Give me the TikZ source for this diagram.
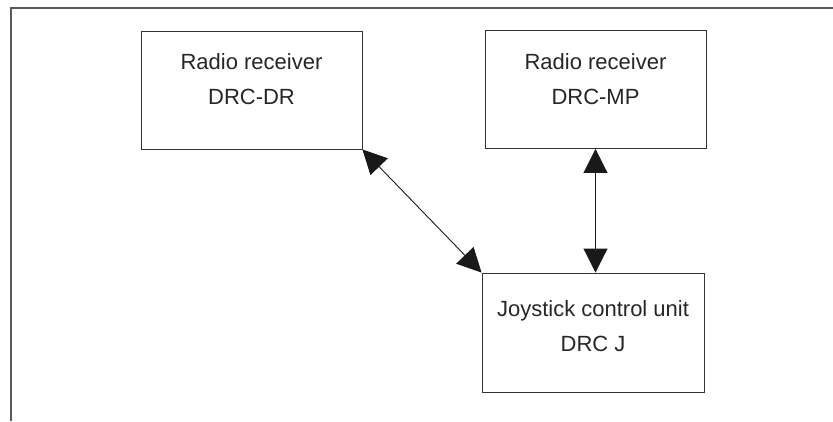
\documentclass[tikz,border=0pt]{standalone}
\usepackage{fontspec}
\setmainfont{Liberation Sans}
\usetikzlibrary{arrows.meta}
\begin{document}
\begin{tikzpicture}
  [x=1pt,y=-1pt,
   box/.style={draw=black!80,line width=0.9pt,minimum width=221pt,minimum height=118pt,inner sep=0pt},
   lbl/.style={align=center,inner sep=0pt,text=black!85,font=\fontsize{22}{35}\selectfont},
   link/.style={line width=0.9pt,black!90,{Triangle[length=24pt,width=24pt]}-{Triangle[length=24pt,width=24pt]}}]
\useasboundingbox (0,0) rectangle (833,421);
\draw [line width=1.5pt,black!65] (11,421) -- (11,8) -- (833,8);

\node (dr)[box] at (251.5,90) {};
  \node (mp)[box] at (595.5,89.5) {};
  \node (joy)[box,minimum width=222pt,minimum height=119pt] at (593,332.5) {};

\node (tdr)[lbl] at (251.5,79.5) {Radio receiver\\DRC-DR};
  \node (tmp)[lbl] at (595.5,79) {Radio receiver\\DRC-MP};
  \node (tjoy)[lbl] at (593,326) {Joystick control unit\\DRC J};


 \path [link] (dr.south east) edge (joy.north west);

    \path [link] (mp.south) edge (mp.south |- joy.north);
;
\end{tikzpicture}
\end{document}
